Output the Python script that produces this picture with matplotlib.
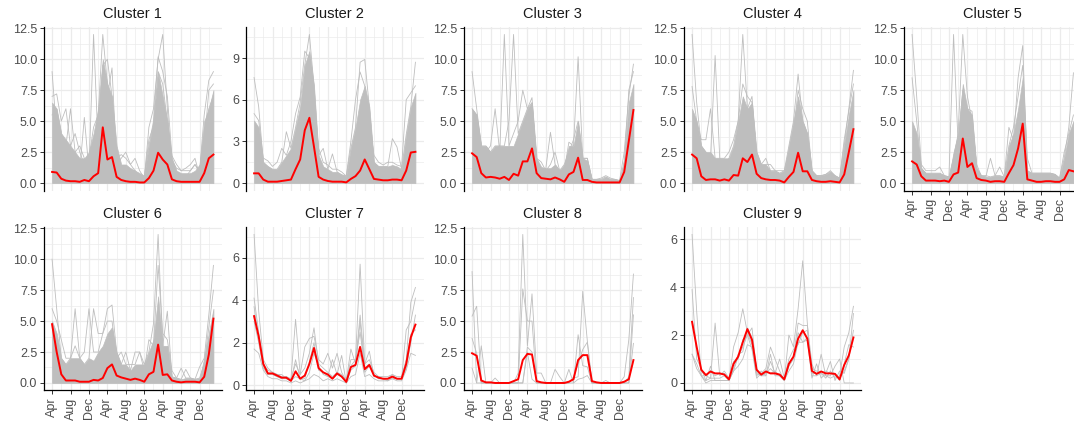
import matplotlib
matplotlib.use('Agg')
import matplotlib.pyplot as plt
import numpy as np
from matplotlib.ticker import MultipleLocator

plt.rcParams['font.family'] = ['Liberation Sans', 'DejaVu Sans']

# monthly index, Apr of year 1 .. Mar of year 4
months = np.arange(36)
tick_labels = ['Apr', 'Aug', 'Dec'] * 3

# cluster means (red)
mean_c1 = [0.9, 0.85, 0.35, 0.2, 0.15, 0.15, 0.1, 0.25, 0.15, 0.55, 0.8, 4.5, 1.9, 2.1, 0.5, 0.25, 0.15, 0.1,
           0.1, 0.05, 0.05, 0.4, 1.0, 2.45, 1.9, 1.5, 0.3, 0.15, 0.1, 0.1, 0.1, 0.1, 0.1, 0.8, 2.0, 2.3]
mean_c2 = [0.7, 0.7, 0.25, 0.1, 0.1, 0.1, 0.15, 0.2, 0.25, 1.0, 1.7, 3.8, 4.7, 2.6, 0.45, 0.25, 0.15, 0.1,
           0.1, 0.1, 0.05, 0.3, 0.5, 0.9, 1.7, 1.0, 0.3, 0.25, 0.2, 0.2, 0.25, 0.25, 0.2, 0.9, 2.2, 2.25]
mean_c3 = [2.4, 2.1, 0.8, 0.45, 0.5, 0.45, 0.35, 0.5, 0.25, 0.75, 0.6, 1.75, 1.75, 2.8, 0.8, 0.4, 0.35, 0.3,
           0.45, 0.3, 0.1, 0.7, 0.9, 2.05, 0.25, 0.25, 0.1, 0.05, 0.05, 0.05, 0.05, 0.05, 0.05, 0.9, 3.4, 5.9]
mean_c4 = [2.3, 2.0, 0.55, 0.25, 0.3, 0.3, 0.2, 0.3, 0.2, 0.65, 0.6, 2.0, 1.7, 2.3, 0.75, 0.4, 0.3, 0.25,
           0.25, 0.2, 0.05, 0.5, 0.9, 2.45, 0.95, 0.95, 0.25, 0.15, 0.1, 0.1, 0.15, 0.1, 0.05, 0.7, 2.5, 4.35]
mean_c5 = [1.75, 1.5, 0.55, 0.2, 0.2, 0.2, 0.15, 0.2, 0.1, 0.7, 0.85, 3.6, 1.3, 1.6, 0.4, 0.25, 0.2, 0.1,
           0.15, 0.15, 0.1, 0.8, 1.45, 2.8, 4.8, 0.3, 0.2, 0.1, 0.1, 0.15, 0.15, 0.1, 0.1, 0.3, 1.05, 0.95]
mean_c6 = [4.75, 2.5, 0.7, 0.2, 0.2, 0.2, 0.1, 0.1, 0.1, 0.25, 0.2, 0.4, 1.2, 1.5, 0.6, 0.45, 0.35, 0.25,
           0.35, 0.25, 0.1, 0.7, 0.9, 3.1, 0.65, 0.7, 0.2, 0.1, 0.05, 0.1, 0.1, 0.1, 0.05, 0.5, 2.3, 5.2]
mean_c7 = [3.25, 2.3, 1.0, 0.55, 0.55, 0.45, 0.35, 0.35, 0.2, 0.65, 0.3, 0.45, 1.0, 1.75, 0.8, 0.6, 0.5, 0.3,
           0.55, 0.4, 0.15, 0.85, 0.95, 1.8, 0.75, 0.95, 0.45, 0.35, 0.3, 0.3, 0.4, 0.3, 0.3, 1.0, 2.25, 2.85]
mean_c8 = [2.4, 2.2, 0.2, 0.05, 0.05, 0.0, 0.0, 0.0, 0.0, 0.15, 0.3, 1.85, 2.35, 2.3, 0.15, 0.05, 0.0, 0.0,
           0.0, 0.0, 0.0, 0.1, 0.3, 1.85, 2.25, 2.25, 0.15, 0.05, 0.0, 0.0, 0.0, 0.0, 0.0, 0.1, 0.3, 1.85]
mean_c9 = [2.55, 1.5, 0.55, 0.33, 0.48, 0.4, 0.4, 0.35, 0.15, 0.8, 1.1, 1.7, 2.25, 1.8, 0.55, 0.35, 0.48, 0.4,
           0.4, 0.35, 0.15, 0.8, 1.1, 1.85, 2.2, 1.85, 0.5, 0.38, 0.48, 0.4, 0.4, 0.38, 0.15, 0.75, 1.15, 1.9]

# upper edge of the dense mass of grey series (clusters 1-6)
band_c1 = [6.5, 6.0, 4.0, 3.5, 3.0, 2.5, 2.0, 2.0, 2.5, 4.0, 6.0, 10.0, 8.0, 7.0, 3.0, 1.5, 1.5, 1.2,
           1.0, 0.8, 0.6, 3.0, 5.0, 9.0, 7.0, 5.0, 2.0, 1.0, 0.8, 0.8, 0.8, 1.0, 1.5, 5.0, 6.0, 7.5]
band_c2 = [4.5, 4.0, 1.5, 1.2, 1.0, 1.0, 1.5, 2.0, 2.5, 4.0, 5.5, 8.5, 9.5, 7.0, 2.0, 1.2, 1.0, 0.8,
           0.8, 0.6, 0.5, 2.5, 4.0, 6.0, 7.0, 5.5, 1.5, 1.2, 1.2, 1.2, 1.3, 1.2, 1.0, 3.5, 5.5, 6.5]
band_c3 = [6.0, 5.5, 3.0, 3.0, 2.5, 3.0, 3.0, 3.0, 3.0, 3.0, 4.0, 5.0, 6.0, 6.5, 2.0, 1.3, 1.2, 1.2,
           1.5, 1.0, 1.5, 3.0, 3.0, 5.0, 2.0, 1.8, 0.3, 0.3, 0.3, 0.5, 0.3, 0.3, 0.2, 2.0, 6.5, 8.0]
band_c4 = [6.0, 5.0, 3.0, 2.5, 2.5, 2.0, 2.0, 2.0, 2.0, 3.0, 5.0, 7.0, 6.0, 6.5, 2.5, 1.5, 1.5, 1.0,
           1.0, 0.8, 1.0, 3.0, 5.0, 7.0, 5.0, 4.0, 1.0, 0.6, 0.6, 0.7, 0.9, 0.6, 0.4, 3.0, 5.5, 7.5]
band_c5 = [5.0, 4.0, 1.2, 0.8, 0.8, 0.8, 0.8, 0.6, 0.5, 2.5, 4.0, 8.0, 6.0, 5.5, 1.2, 0.6, 0.5, 0.5,
           0.6, 0.6, 0.5, 3.0, 4.0, 6.0, 8.5, 1.0, 0.8, 0.8, 0.8, 0.8, 0.8, 0.7, 0.4, 2.0, 4.0, 5.0]
band_c6 = [5.0, 4.0, 2.0, 1.5, 2.0, 2.0, 2.0, 1.5, 2.0, 1.8, 2.5, 3.0, 4.0, 4.5, 2.5, 1.5, 1.5, 1.0,
           1.5, 1.5, 1.5, 2.5, 3.5, 7.0, 3.0, 3.0, 0.5, 0.4, 0.3, 0.4, 0.4, 0.3, 0.4, 2.0, 4.0, 6.0]

# individual grey series that stand out
gray_c1 = [
    [9.0, 4.0, 2.0, 1.5, 1.0, 1.0, 1.0, 5.3, 1.0, 12.0, 3.0, 5.0, 7.0, 9.3, 1.5, 1.0, 1.0, 1.0,
     1.0, 0.5, 0.3, 4.5, 6.0, 10.0, 12.0, 6.0, 1.0, 0.5, 0.5, 0.5, 1.0, 1.5, 1.0, 5.5, 8.3, 9.0],
    [7.0, 7.2, 5.0, 6.0, 3.0, 4.0, 2.5, 1.5, 2.0, 4.5, 5.5, 12.0, 8.0, 5.0, 2.0, 2.3, 2.0, 1.5,
     1.0, 0.5, 0.5, 3.5, 4.6, 9.0, 8.0, 5.0, 1.8, 1.2, 1.0, 1.0, 1.0, 1.5, 0.8, 4.0, 6.0, 7.0],
    [5.5, 6.0, 4.0, 3.0, 6.0, 2.5, 3.0, 2.0, 1.5, 3.0, 4.0, 9.5, 10.0, 7.0, 1.5, 2.0, 2.5, 1.5,
     2.0, 1.0, 0.4, 3.0, 5.0, 10.2, 9.0, 7.0, 2.2, 1.5, 1.0, 1.2, 1.5, 2.0, 0.6, 3.0, 7.5, 8.0],
]
gray_c2 = [
    [7.6, 5.5, 1.5, 1.2, 1.0, 1.0, 1.5, 3.7, 2.5, 4.0, 5.8, 8.5, 10.7, 7.0, 2.0, 2.5, 1.0, 2.1,
     0.8, 0.6, 0.5, 2.5, 4.0, 8.7, 8.9, 5.5, 1.5, 1.2, 1.2, 1.2, 3.2, 2.6, 1.0, 3.5, 5.5, 8.7],
    [5.0, 4.5, 1.8, 1.6, 1.2, 1.5, 2.5, 2.0, 3.0, 5.0, 6.2, 9.5, 9.0, 6.0, 2.5, 1.5, 1.3, 1.0,
     1.0, 0.8, 0.5, 3.0, 6.0, 8.0, 7.0, 4.5, 2.0, 1.5, 1.3, 1.5, 1.5, 1.3, 1.2, 6.0, 6.5, 7.0],
]
gray_c3 = [
    [9.0, 6.0, 3.0, 2.5, 3.0, 6.0, 2.5, 12.0, 3.0, 4.0, 5.0, 7.5, 6.0, 6.9, 1.5, 1.0, 1.2, 4.1,
     1.5, 1.0, 1.0, 3.3, 3.0, 10.2, 2.0, 2.0, 0.3, 0.3, 0.3, 0.5, 0.3, 0.3, 0.2, 2.5, 7.0, 9.6],
    [6.0, 5.5, 3.0, 3.0, 2.5, 3.0, 3.0, 3.0, 5.0, 12.0, 4.0, 5.0, 6.0, 6.5, 2.0, 1.7, 1.0, 1.5,
     2.5, 1.0, 1.5, 2.5, 3.5, 5.0, 2.0, 2.0, 0.3, 0.3, 0.4, 0.6, 0.4, 0.3, 0.2, 1.5, 7.5, 9.0],
]
gray_c4 = [
    [12.0, 6.5, 3.0, 2.5, 2.0, 10.3, 2.0, 1.5, 2.0, 3.0, 5.0, 12.0, 6.0, 7.0, 2.0, 1.5, 2.0, 1.0,
     1.0, 0.8, 1.0, 3.0, 5.0, 8.8, 5.0, 4.0, 1.0, 0.6, 0.6, 0.7, 1.0, 0.6, 0.4, 3.0, 6.0, 9.1],
    [7.8, 5.0, 3.5, 3.5, 6.0, 2.0, 2.0, 2.0, 2.5, 3.5, 5.0, 8.0, 7.0, 6.5, 2.5, 1.5, 1.5, 1.5,
     1.0, 1.0, 1.0, 2.5, 4.0, 7.5, 6.0, 5.0, 1.0, 0.6, 0.6, 0.7, 0.9, 0.6, 0.4, 3.5, 5.8, 8.0],
]
gray_c5 = [
    [12.0, 7.0, 1.5, 1.0, 1.0, 1.0, 1.3, 0.6, 0.5, 12.0, 3.0, 7.5, 6.0, 5.8, 1.2, 0.6, 0.5, 2.0,
     0.6, 0.6, 0.5, 4.5, 3.5, 8.5, 11.1, 1.0, 0.8, 0.8, 0.8, 0.8, 0.8, 0.7, 0.4, 2.0, 4.5, 8.9],
    [8.5, 5.0, 1.2, 0.8, 0.8, 0.8, 0.8, 0.6, 0.5, 2.0, 4.0, 12.0, 7.0, 5.0, 1.5, 0.6, 0.6, 0.5,
     0.6, 1.3, 0.5, 3.0, 4.5, 7.0, 9.5, 2.0, 0.8, 0.8, 0.8, 0.8, 0.8, 0.7, 0.4, 2.5, 4.0, 5.5],
]
gray_c6 = [
    [10.0, 6.0, 2.0, 1.5, 2.0, 6.0, 2.0, 1.5, 2.0, 6.0, 4.0, 4.0, 6.0, 6.3, 2.5, 1.5, 2.5, 1.0,
     2.5, 2.5, 1.5, 2.5, 4.8, 12.0, 3.0, 5.8, 0.5, 0.4, 1.2, 0.4, 0.4, 0.3, 1.3, 2.0, 5.5, 9.5],
    [6.0, 5.0, 3.5, 2.0, 2.0, 3.0, 2.0, 2.5, 6.0, 2.5, 2.5, 4.0, 5.0, 5.0, 2.0, 2.5, 1.5, 1.5,
     1.5, 2.5, 1.0, 3.5, 3.0, 9.5, 4.0, 3.5, 1.0, 0.4, 0.3, 1.1, 0.4, 0.3, 0.4, 1.5, 4.5, 7.5],
]
gray_c7 = [
    [7.1, 3.5, 1.2, 0.8, 0.6, 0.5, 0.4, 0.4, 0.3, 3.1, 0.5, 0.8, 1.5, 2.7, 1.0, 0.8, 0.6, 0.4,
     0.6, 0.5, 0.2, 1.2, 1.2, 5.7, 1.0, 1.2, 0.6, 0.4, 0.4, 0.4, 0.5, 0.4, 0.4, 1.2, 3.9, 4.6],
    [4.1, 2.5, 1.0, 0.7, 0.6, 0.5, 0.5, 0.3, 0.3, 1.0, 0.5, 1.8, 2.2, 2.3, 1.2, 1.0, 1.5, 0.8,
     1.5, 0.6, 0.2, 1.7, 1.0, 3.3, 1.0, 1.6, 0.4, 0.4, 0.3, 0.3, 0.5, 0.3, 0.3, 2.6, 3.0, 4.1],
    [3.7, 2.2, 0.9, 0.5, 0.5, 0.4, 0.3, 0.3, 0.2, 0.4, 0.3, 0.2, 0.6, 1.5, 0.9, 0.5, 0.4, 0.3,
     0.5, 0.4, 0.1, 0.7, 0.9, 3.0, 0.6, 0.9, 0.5, 0.3, 0.3, 0.2, 0.4, 0.3, 0.3, 0.8, 2.0, 3.3],
    [1.7, 1.5, 0.7, 0.4, 0.3, 0.3, 0.2, 0.2, 0.1, 0.2, 0.1, 0.2, 0.3, 0.5, 0.4, 0.2, 0.3, 0.2,
     0.3, 0.2, 0.1, 0.4, 0.5, 1.5, 0.4, 0.5, 0.3, 0.2, 0.2, 0.2, 0.3, 0.2, 0.2, 0.7, 1.5, 1.4],
    [3.0, 2.0, 0.8, 0.5, 0.5, 0.4, 0.3, 0.4, 0.2, 1.2, 0.3, 0.3, 1.1, 2.0, 0.7, 0.6, 0.4, 1.2,
     0.5, 1.4, 0.1, 0.9, 1.2, 2.5, 0.8, 1.0, 0.5, 0.3, 0.3, 0.3, 0.3, 0.3, 0.3, 1.1, 2.4, 2.6],
]
gray_c8 = [
    [9.0, 0.0, 3.0, 0.0, 0.0, 0.0, 0.0, 0.0, 0.0, 0.0, 0.8, 12.0, 3.0, 7.2, 0.8, 0.8, 0.0, 0.0,
     0.0, 0.0, 0.0, 0.0, 0.4, 0.5, 7.4, 3.4, 0.0, 0.0, 0.0, 0.0, 0.0, 0.0, 0.0, 0.5, 3.5, 8.8],
    [5.4, 6.2, 0.0, 0.0, 0.0, 0.4, 0.0, 0.0, 0.0, 0.0, 0.0, 7.6, 5.0, 5.0, 0.0, 0.0, 0.0, 0.0,
     1.1, 0.5, 0.0, 1.1, 0.0, 3.9, 1.4, 1.3, 0.0, 0.0, 0.0, 0.2, 0.0, 0.0, 0.0, 0.0, 0.5, 6.9],
    [3.6, 2.4, 0.0, 0.0, 0.0, 0.0, 0.0, 0.0, 0.0, 0.0, 0.0, 0.0, 2.9, 2.5, 0.0, 0.0, 0.0, 0.0,
     0.0, 0.0, 0.0, 0.0, 0.5, 1.5, 2.7, 3.3, 0.0, 0.0, 0.0, 0.0, 0.0, 0.0, 0.0, 0.0, 0.0, 5.5],
    [1.2, 0.0, 0.0, 0.0, 0.0, 0.0, 0.0, 0.0, 0.0, 0.0, 0.0, 0.0, 2.5, 0.3, 0.0, 0.0, 0.0, 0.0,
     0.0, 0.0, 0.0, 0.0, 0.0, 0.3, 0.4, 0.6, 0.0, 0.0, 0.0, 0.0, 0.0, 0.0, 0.0, 0.0, 0.0, 3.2],
]
gray_c9 = [
    [6.2, 3.0, 0.3, 0.0, 0.1, 0.1, 0.1, 0.1, 0.1, 1.5, 2.1, 3.1, 2.1, 1.6, 0.3, 0.5, 0.3, 1.2,
     0.3, 0.3, 0.1, 2.0, 1.5, 3.1, 5.1, 2.5, 0.3, 0.3, 0.4, 0.2, 0.5, 0.2, 0.3, 1.5, 2.1, 3.2],
    [3.9, 1.0, 0.6, 0.1, 0.7, 0.1, 0.1, 0.1, 0.1, 0.5, 1.1, 1.5, 2.0, 2.3, 0.5, 0.3, 0.3, 0.9,
     0.4, 1.0, 0.2, 0.8, 1.1, 2.5, 2.4, 2.4, 0.8, 0.3, 1.2, 0.3, 0.2, 0.3, 0.2, 0.5, 1.0, 2.9],
    [1.2, 0.6, 0.3, 0.1, 0.2, 2.5, 0.3, 0.5, 0.2, 0.9, 1.0, 1.8, 2.0, 1.4, 0.2, 0.4, 0.6, 1.5,
     1.0, 0.5, 0.1, 0.7, 1.0, 2.1, 1.7, 1.8, 0.2, 0.8, 0.2, 0.4, 0.9, 0.1, 0.5, 0.4, 1.0, 2.2],
    [1.2, 0.8, 0.3, 0.3, 0.2, 0.2, 0.2, 0.3, 0.1, 0.5, 0.7, 1.0, 1.6, 1.5, 0.4, 0.3, 0.4, 0.6,
     0.4, 0.3, 0.1, 0.5, 0.8, 1.7, 1.7, 1.9, 0.6, 0.5, 0.4, 0.3, 0.3, 0.7, 1.0, 0.0, 0.0, 0.0],
    [2.6, 1.5, 0.5, 0.3, 0.5, 0.3, 0.4, 0.4, 0.1, 0.6, 1.2, 1.3, 2.3, 1.9, 0.6, 0.3, 0.5, 0.4,
     0.5, 0.3, 0.2, 1.0, 1.4, 1.6, 2.1, 2.2, 0.4, 0.4, 0.4, 0.5, 0.4, 0.4, 0.1, 0.8, 1.6, 1.5],
]

means = [mean_c1, mean_c2, mean_c3, mean_c4, mean_c5, mean_c6, mean_c7, mean_c8, mean_c9]
bands = [band_c1, band_c2, band_c3, band_c4, band_c5, band_c6, None, None, None]
grays = [gray_c1, gray_c2, gray_c3, gray_c4, gray_c5, gray_c6, gray_c7, gray_c8, gray_c9]
ystep = [2.5, 3, 2.5, 2.5, 2.5, 2.5, 2, 2.5, 2]

W, H = 1074, 425
fig = plt.figure(figsize=(W / 100, H / 100), dpi=100)

lefts = [44, 246, 464, 684, 904]
pw = 177.5
rows = [(27, 190.5), (227, 390.4)]
GREY = '#BEBEBE'

for k in range(9):
    r, c = divmod(k, 5)
    top, bot = rows[r]
    ax = fig.add_axes([lefts[c] / W, 1 - bot / H, pw / W, (bot - top) / H])

    if bands[k] is not None:
        ax.fill_between(months, 0, bands[k], color=GREY, lw=0.5, zorder=2)
    for g in grays[k]:
        ax.plot(months, g, color=GREY, lw=0.6, zorder=2)
    ax.plot(months, means[k], color='red', lw=1.4, zorder=3)

    ax.margins(x=0.05, y=0.05)
    step = ystep[k]
    ymax = ax.get_ylim()[1]
    yt = np.arange(0, ymax, step)
    ax.set_yticks(yt)
    if step == 2.5:
        ax.set_yticklabels(['%.1f' % v for v in yt])
    else:
        ax.set_yticklabels(['%g' % v for v in yt])
    ax.yaxis.set_minor_locator(MultipleLocator(step / 2))

    ax.set_xticks(np.arange(0, 36, 4))
    ax.set_xticks(np.arange(2, 36, 4), minor=True)
    ax.grid(True, which='major', color='#EBEBEB', lw=0.9, zorder=0)
    ax.grid(True, which='minor', color='#EBEBEB', lw=0.5, zorder=0)
    ax.set_axisbelow(True)

    for s in ['top', 'right']:
        ax.spines[s].set_visible(False)
    ax.spines['left'].set_linewidth(0.9)
    ax.spines['bottom'].set_linewidth(0.9)
    ax.tick_params(axis='y', which='major', length=2.75, width=0.7, color='#333333',
                   labelsize=9, labelcolor='#4D4D4D', pad=2.2)
    ax.tick_params(which='minor', length=0)

    if k < 4:
        ax.spines['bottom'].set_visible(False)
        ax.tick_params(axis='x', which='major', length=0, labelbottom=False)
    else:
        ax.set_xticklabels(tick_labels, rotation=90)
        ax.tick_params(axis='x', which='major', length=2.75, width=0.7, color='#333333',
                       labelsize=9, labelcolor='#4D4D4D', pad=2.2)

    ax.set_title('Cluster %d' % (k + 1), fontsize=10.5, color='#1A1A1A', pad=6.5)

fig.savefig('out.png', dpi=100)
